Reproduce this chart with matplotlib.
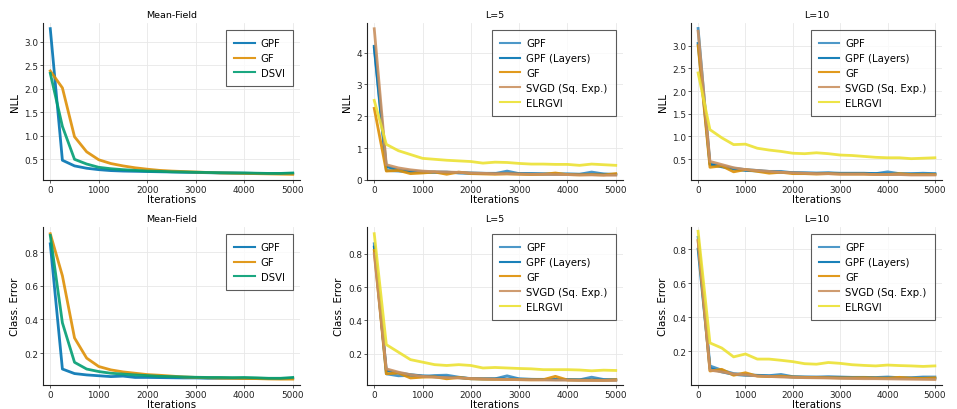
import numpy as np
import matplotlib
matplotlib.use("Agg")
import matplotlib.pyplot as plt

iters = list(range(0, 5001, 250))

# Mean-Field
mf_nll_gpf = [3.28, 0.48, 0.36, 0.31, 0.28, 0.26, 0.25, 0.245, 0.24, 0.235, 0.23, 0.225, 0.22, 0.215, 0.21, 0.21, 0.205, 0.2, 0.2, 0.2, 0.2]
mf_nll_gf = [2.38, 2.02, 0.98, 0.66, 0.49, 0.41, 0.36, 0.32, 0.29, 0.265, 0.25, 0.24, 0.23, 0.22, 0.21, 0.205, 0.2, 0.195, 0.19, 0.185, 0.18]
mf_nll_dsvi = [2.33, 1.2, 0.5, 0.4, 0.33, 0.3, 0.28, 0.265, 0.25, 0.245, 0.235, 0.23, 0.225, 0.22, 0.215, 0.21, 0.21, 0.205, 0.2, 0.2, 0.21]

mf_err_gpf = [0.85, 0.105, 0.078, 0.07, 0.065, 0.06, 0.063, 0.055, 0.055, 0.054, 0.053, 0.052, 0.052, 0.05, 0.05, 0.05, 0.049, 0.048, 0.048, 0.048, 0.05]
mf_err_gf = [0.91, 0.66, 0.29, 0.17, 0.12, 0.1, 0.088, 0.08, 0.072, 0.068, 0.063, 0.058, 0.055, 0.053, 0.051, 0.05, 0.049, 0.048, 0.046, 0.045, 0.045]
mf_err_dsvi = [0.9, 0.38, 0.145, 0.105, 0.09, 0.08, 0.075, 0.07, 0.066, 0.062, 0.06, 0.058, 0.056, 0.055, 0.055, 0.054, 0.055, 0.053, 0.05, 0.05, 0.055]

# L=5
l5_nll_gpf = [4.15, 0.3, 0.28, 0.25, 0.24, 0.24, 0.25, 0.22, 0.21, 0.21, 0.2, 0.28, 0.2, 0.19, 0.19, 0.18, 0.18, 0.18, 0.25, 0.19, 0.17]
l5_nll_gpfl = [4.2, 0.42, 0.32, 0.28, 0.26, 0.25, 0.24, 0.23, 0.22, 0.21, 0.21, 0.21, 0.2, 0.2, 0.19, 0.19, 0.19, 0.18, 0.18, 0.18, 0.18]
l5_nll_gf = [2.25, 0.28, 0.3, 0.2, 0.22, 0.25, 0.18, 0.25, 0.2, 0.19, 0.18, 0.19, 0.18, 0.17, 0.18, 0.22, 0.17, 0.16, 0.17, 0.16, 0.2]
l5_nll_svgd = [4.75, 0.48, 0.38, 0.32, 0.28, 0.26, 0.25, 0.24, 0.22, 0.21, 0.2, 0.2, 0.19, 0.18, 0.18, 0.17, 0.17, 0.16, 0.16, 0.15, 0.15]
l5_nll_elr = [2.5, 1.12, 0.92, 0.8, 0.68, 0.65, 0.62, 0.6, 0.58, 0.53, 0.56, 0.55, 0.52, 0.5, 0.5, 0.49, 0.49, 0.46, 0.5, 0.48, 0.46]

l5_err_gpf = [0.86, 0.08, 0.068, 0.07, 0.065, 0.07, 0.072, 0.06, 0.05, 0.05, 0.05, 0.068, 0.05, 0.047, 0.047, 0.046, 0.045, 0.044, 0.06, 0.046, 0.045]
l5_err_gpfl = [0.84, 0.1, 0.085, 0.075, 0.068, 0.062, 0.06, 0.057, 0.052, 0.05, 0.05, 0.049, 0.048, 0.047, 0.046, 0.045, 0.045, 0.044, 0.044, 0.043, 0.043]
l5_err_gf = [0.82, 0.08, 0.085, 0.055, 0.06, 0.062, 0.05, 0.058, 0.05, 0.048, 0.047, 0.046, 0.045, 0.044, 0.045, 0.065, 0.043, 0.042, 0.042, 0.041, 0.045]
l5_err_svgd = [0.8, 0.11, 0.09, 0.075, 0.065, 0.06, 0.058, 0.055, 0.052, 0.05, 0.048, 0.046, 0.045, 0.044, 0.043, 0.042, 0.042, 0.041, 0.04, 0.04, 0.04]
l5_err_elr = [0.92, 0.255, 0.21, 0.165, 0.15, 0.135, 0.13, 0.135, 0.13, 0.115, 0.118, 0.115, 0.112, 0.11, 0.105, 0.105, 0.105, 0.103, 0.098, 0.102, 0.1]

# L=10
l10_nll_gpf = [3.38, 0.4, 0.35, 0.3, 0.27, 0.25, 0.23, 0.23, 0.2, 0.2, 0.19, 0.2, 0.19, 0.19, 0.19, 0.18, 0.22, 0.18, 0.18, 0.19, 0.18]
l10_nll_gpfl = [3.05, 0.38, 0.33, 0.28, 0.25, 0.24, 0.22, 0.21, 0.2, 0.19, 0.19, 0.19, 0.18, 0.18, 0.18, 0.18, 0.17, 0.17, 0.17, 0.17, 0.17]
l10_nll_gf = [3.0, 0.32, 0.35, 0.22, 0.27, 0.23, 0.19, 0.21, 0.18, 0.18, 0.17, 0.18, 0.17, 0.17, 0.17, 0.16, 0.16, 0.18, 0.16, 0.16, 0.16]
l10_nll_svgd = [3.32, 0.45, 0.38, 0.31, 0.27, 0.25, 0.23, 0.21, 0.2, 0.19, 0.18, 0.18, 0.17, 0.17, 0.17, 0.16, 0.16, 0.16, 0.15, 0.15, 0.15]
l10_nll_elr = [2.4, 1.15, 0.97, 0.82, 0.83, 0.74, 0.7, 0.67, 0.63, 0.62, 0.64, 0.62, 0.59, 0.58, 0.56, 0.54, 0.53, 0.53, 0.51, 0.52, 0.53]

l10_err_gpf = [0.87, 0.115, 0.09, 0.07, 0.065, 0.06, 0.058, 0.065, 0.052, 0.05, 0.05, 0.052, 0.05, 0.048, 0.048, 0.047, 0.05, 0.046, 0.046, 0.05, 0.05]
l10_err_gpfl = [0.8, 0.1, 0.08, 0.065, 0.06, 0.058, 0.055, 0.053, 0.05, 0.049, 0.048, 0.047, 0.046, 0.045, 0.045, 0.044, 0.044, 0.043, 0.043, 0.043, 0.042]
l10_err_gf = [0.85, 0.085, 0.095, 0.06, 0.075, 0.055, 0.052, 0.055, 0.05, 0.048, 0.047, 0.046, 0.045, 0.045, 0.046, 0.044, 0.043, 0.048, 0.043, 0.042, 0.045]
l10_err_svgd = [0.85, 0.09, 0.08, 0.068, 0.062, 0.056, 0.053, 0.05, 0.048, 0.046, 0.045, 0.044, 0.042, 0.041, 0.04, 0.04, 0.039, 0.038, 0.037, 0.036, 0.035]
l10_err_elr = [0.905, 0.25, 0.22, 0.168, 0.185, 0.155, 0.155, 0.148, 0.14, 0.128, 0.125, 0.135, 0.13, 0.122, 0.118, 0.115, 0.12, 0.117, 0.115, 0.112, 0.115]

c_blue = "#0173B2"
c_blue2 = "#3a8dc2"
c_orange = "#DE8F05"
c_green = "#029E73"
c_brown = "#CA9161"
c_yellow = "#ECE133"

W, H = 957, 410
fig = plt.figure(figsize=(W / 100, H / 100), dpi=100)
plt.rcParams["font.family"] = "DejaVu Sans"

cols = [(43, 300), (367, 623), (691, 942)]
rows = [(24, 181), (228, 386)]

mf_series = ["GPF", "GF", "DSVI"]
l_series = ["GPF", "GPF (Layers)", "GF", "SVGD (Sq. Exp.)", "ELRGVI"]

panels = [
    (0, 0, "Mean-Field", "NLL", [mf_nll_gpf, mf_nll_gf, mf_nll_dsvi], mf_series, (0.06, 3.4), [0.5, 1.0, 1.5, 2.0, 2.5, 3.0]),
    (0, 1, "L=5", "NLL", [l5_nll_gpf, l5_nll_gpfl, l5_nll_gf, l5_nll_svgd, l5_nll_elr], l_series, (0.0, 4.93), [0, 1, 2, 3, 4]),
    (0, 2, "L=10", "NLL", [l10_nll_gpf, l10_nll_gpfl, l10_nll_gf, l10_nll_svgd, l10_nll_elr], l_series, (0.04, 3.5), [0.5, 1.0, 1.5, 2.0, 2.5, 3.0]),
    (1, 0, "Mean-Field", "Class. Error", [mf_err_gpf, mf_err_gf, mf_err_dsvi], mf_series, (0.01, 0.95), [0.2, 0.4, 0.6, 0.8]),
    (1, 1, "L=5", "Class. Error", [l5_err_gpf, l5_err_gpfl, l5_err_gf, l5_err_svgd, l5_err_elr], l_series, (0.013, 0.96), [0.2, 0.4, 0.6, 0.8]),
    (1, 2, "L=10", "Class. Error", [l10_err_gpf, l10_err_gpfl, l10_err_gf, l10_err_svgd, l10_err_elr], l_series, (0.003, 0.93), [0.2, 0.4, 0.6, 0.8]),
]

for r, c, title, ylab, data, names, ylim, yt in panels:
    x0, x1 = cols[c]
    y0, y1 = rows[r]
    ax = fig.add_axes([x0 / W, 1 - y1 / H, (x1 - x0) / W, (y1 - y0) / H])
    if len(names) == 3:
        colors = [c_blue, c_orange, c_green]
    else:
        colors = [c_blue2, c_blue, c_orange, c_brown, c_yellow]
    for ys, name, col in zip(data, names, colors):
        ax.plot(iters, ys, color=col, lw=2.0, label=name, alpha=0.9)
    ax.set_xlim(-150, 5150)
    ax.set_ylim(*ylim)
    ax.set_xticks([0, 1000, 2000, 3000, 4000, 5000])
    ax.set_yticks(yt)
    ax.grid(True, color="#e8e8e8", lw=0.6)
    ax.set_axisbelow(True)
    for s in ["top", "right"]:
        ax.spines[s].set_visible(False)
    for s in ["left", "bottom"]:
        ax.spines[s].set_color("#222222")
        ax.spines[s].set_linewidth(0.8)
    ax.tick_params(labelsize=6.4, length=2, width=0.6, color="#444444", pad=1.5,
                   labelcolor="#222222")
    ax.set_title(title, fontsize=6.8, pad=4)
    ax.set_xlabel("Iterations", fontsize=7.4, labelpad=0)
    ax.set_ylabel(ylab, fontsize=7.4, labelpad=3)
    leg = ax.legend(loc="upper right", fontsize=7.3, frameon=True, fancybox=False,
                    borderaxespad=0.7, handlelength=2.0, handletextpad=0.6,
                    labelspacing=0.48, borderpad=0.8)
    leg.get_frame().set_edgecolor("#333333")
    leg.get_frame().set_linewidth(0.8)
    for ln in leg.get_lines():
        ln.set_linewidth(1.5)

fig.savefig("out.png", dpi=100)
